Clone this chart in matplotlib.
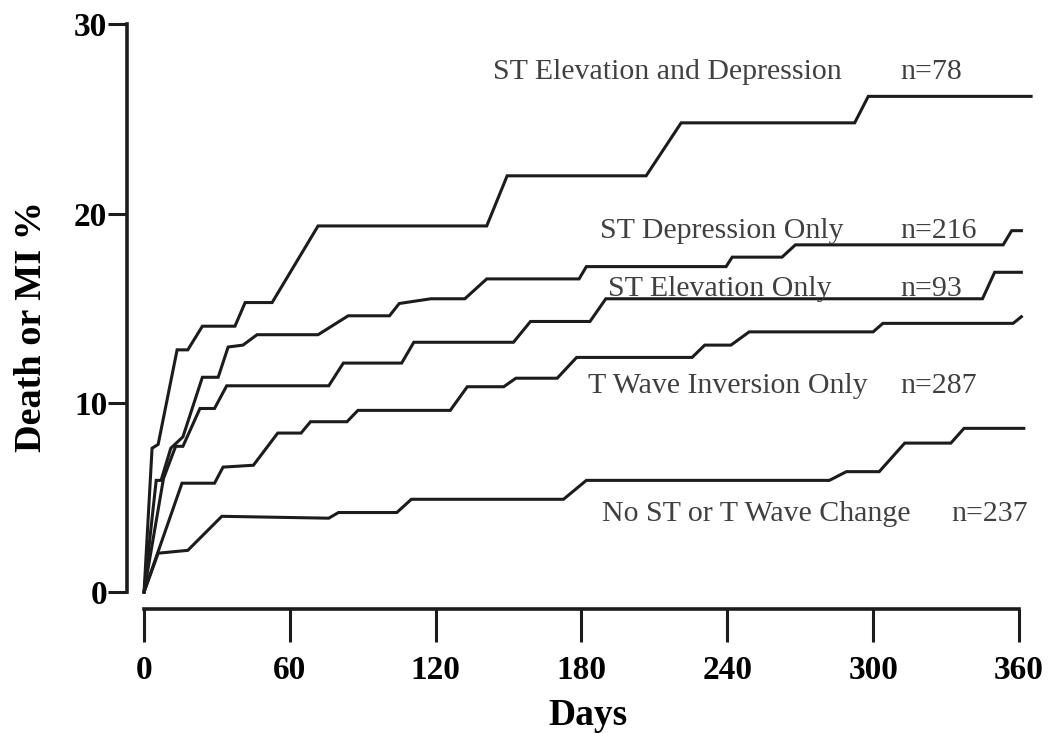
import matplotlib
matplotlib.use('Agg')
import matplotlib.pyplot as plt

plt.rcParams['font.family'] = ['Liberation Serif', 'DejaVu Serif']

# Event curves: day, cumulative death or MI (%)
dias_a = [0, 3.3, 5.8, 13.6, 18, 24, 37.4, 41.6, 52.7, 71.6, 141, 149.4, 206.6, 221, 292.4, 298, 365]
pct_a = [0, 7.6, 7.8, 12.8, 12.8, 14.05, 14.05, 15.3, 15.3, 19.35, 19.35, 22.0, 22.0, 24.8, 24.8, 26.2, 26.2]

dias_b = [0, 5, 7, 11, 16, 24, 30.5, 34.6, 40.7, 46.5, 71.6, 84, 101, 105, 118, 132, 141,
          179, 182, 239.5, 242, 262.5, 268, 353.5, 357, 361]
pct_b = [0, 5.9, 5.9, 7.6, 8.2, 11.35, 11.35, 12.95, 13.05, 13.6, 13.6, 14.6, 14.6, 15.25, 15.5, 15.5, 16.55,
         16.55, 17.2, 17.2, 17.7, 17.7, 18.35, 18.35, 19.1, 19.1]

dias_c = [0, 8, 13, 16, 23, 29, 34, 76, 82, 106, 111, 152, 159, 183.5, 190, 345, 350, 361]
pct_c = [0, 6.0, 7.7, 7.7, 9.7, 9.7, 10.9, 10.9, 12.1, 12.1, 13.2, 13.2, 14.3, 14.3, 15.5, 15.5, 16.9, 16.9]

dias_d = [0, 15.6, 29, 32.5, 45, 55, 64.6, 68.5, 83.5, 88, 126, 133, 148, 153, 170, 178,
          225.5, 230.7, 241.5, 249, 300, 304, 357.6, 361]
pct_d = [0, 5.75, 5.75, 6.6, 6.7, 8.4, 8.4, 9.0, 9.0, 9.6, 9.6, 10.85, 10.85, 11.3, 11.3, 12.4,
         12.4, 13.05, 13.05, 13.75, 13.75, 14.2, 14.2, 14.55]

dias_e = [0, 5.8, 18, 32, 76, 80, 104, 110, 172.6, 182, 282, 289, 302.5, 313, 332, 337.4, 362]
pct_e = [0, 2.05, 2.2, 4.0, 3.9, 4.2, 4.2, 4.9, 4.9, 5.9, 5.9, 6.36, 6.36, 7.87, 7.87, 8.65, 8.65]

nombres = ['ST Elevation and Depression', 'ST Depression Only', 'ST Elevation Only',
           'T Wave Inversion Only', 'No ST or T Wave Change']
ns = ['n=78', 'n=216', 'n=93', 'n=287', 'n=237']
# label anchors (day, %) for name and n
pos_nombre = [(143.6, 27.5), (187.7, 19.1), (191, 16.0), (182.7, 10.9), (188.5, 4.1)]
pos_n = [(311, 27.5), (311, 19.1), (311, 16.0), (311, 10.9), (332, 4.1)]

fig = plt.figure(figsize=(10.53, 7.33), dpi=100)
ax = fig.add_axes([0.1368, 0.1924, 0.8424, 0.7742])

for d, p in [(dias_a, pct_a), (dias_b, pct_b), (dias_c, pct_c), (dias_d, pct_d), (dias_e, pct_e)]:
    ax.plot(d, p, color='#1c1c1c', lw=2.2, solid_joinstyle='miter', clip_on=False)

for nom, n, pn, pc in zip(nombres, ns, pos_nombre, pos_n):
    ax.text(pn[0], pn[1], nom, fontsize=21.5, color='#404040', va='center', ha='left')
    ax.text(pc[0], pc[1], n, fontsize=21.5, color='#404040', va='center', ha='left')

ax.set_xlim(0, 365)
ax.set_ylim(0, 30)

# Ejes separados del origen
for lado in ['top', 'right']:
    ax.spines[lado].set_visible(False)
ax.spines['left'].set_position(('outward', 12))
ax.spines['bottom'].set_position(('outward', 12.2))
ax.spines['left'].set_bounds(0, 30)
ax.spines['bottom'].set_bounds(0, 360)
for lado in ['left', 'bottom']:
    ax.spines[lado].set_linewidth(2.6)
    ax.spines[lado].set_color('#1c1c1c')

ax.set_xticks([0, 60, 120, 180, 240, 300, 360])
ax.set_yticks([0, 10, 20, 30])
ax.tick_params(axis='y', length=13.5, width=2.2, pad=1, labelsize=24, color='#1c1c1c')
ax.tick_params(axis='x', length=24, width=2.2, pad=9, labelsize=24, color='#1c1c1c')
for lab in ax.get_xticklabels() + ax.get_yticklabels():
    lab.set_fontweight('bold')

ax.set_xlabel('Days', fontsize=27, fontweight='bold', labelpad=9)
ax.set_ylabel('Death or MI %', fontsize=27.5, fontweight='bold')
ax.yaxis.set_label_coords(-0.107, 0.467)

fig.savefig('out.png', dpi=100)
